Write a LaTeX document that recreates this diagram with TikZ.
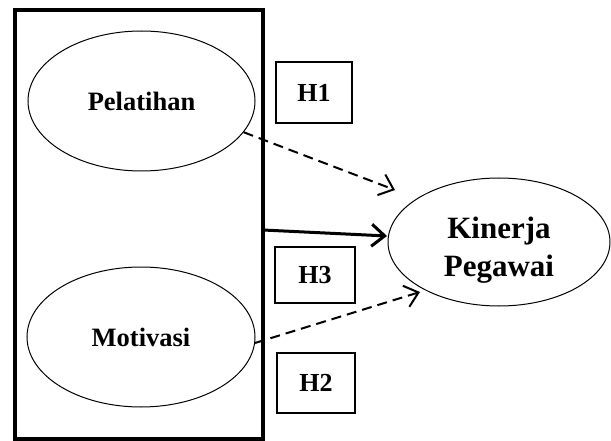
\documentclass[tikz,border=0pt]{standalone}
\usepackage{fontspec}
\setmainfont{Liberation Serif}
\usetikzlibrary{arrows.meta,shapes.geometric}
\tikzset{>={Straight Barb[length=13pt,width=22pt]}}
\tikzset{
  var/.style={draw,ellipse,line width=1pt,inner sep=0pt,align=center,
    font=\fontsize{26.5}{30}\selectfont\bfseries},
  hyp/.style={draw,rectangle,line width=1.5pt,inner sep=0pt,
    font=\fontsize{26}{30}\selectfont\bfseries},
  dasharrow/.style={->,line width=2pt,dash pattern=on 10pt off 6pt},
}

\begin{document}
\begin{tikzpicture}[x=1pt,y=-1pt]
\useasboundingbox (0,0) rectangle (611,441);
\node[draw,line width=4pt,minimum width=248.5pt,minimum height=428.5pt] (frame) at (138.75,224.75) {};
\node[var,minimum width=227pt,minimum height=140pt] (pel) at (141.5,101) {Pelatihan};
\node[var,minimum width=228pt,minimum height=140pt] (mot) at (141,337) {Motivasi};
\node[var,minimum width=222pt,minimum height=128pt,font=\fontsize{31}{38}\selectfont\bfseries] (kin) at (499,242) {\rule{0pt}{38pt}Kinerja\\Pegawai};
\node[hyp,minimum width=76pt,minimum height=61pt] (h1) at (314,92.5) {H1};
\node[hyp,minimum width=80pt,minimum height=56pt] (h3) at (315,275) {H3};
\node[hyp,minimum width=78pt,minimum height=60pt] (h2) at (316,383) {H2};
\coordinate (t1) at (395,190);
\coordinate (t2) at (420,292);
\coordinate (s3) at (263,230);
\coordinate (t3) at (387,236);
\draw[dasharrow] (pel.-17) -- (t1);
\draw[dasharrow] (mot.-3) -- (t2);
\draw[->,line width=3pt] (s3) -- (t3);
\end{tikzpicture}
\end{document}
